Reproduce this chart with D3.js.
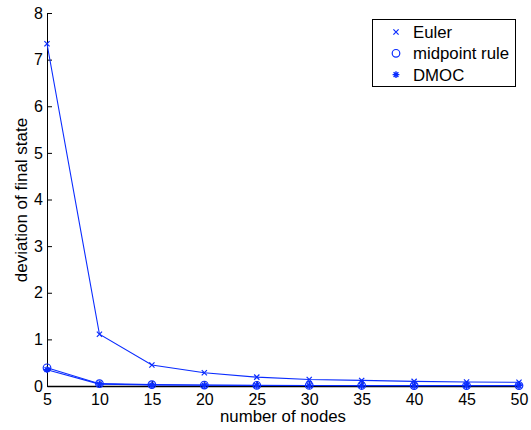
<!DOCTYPE html>
<html><head><meta charset="utf-8">
<script src="https://cdn.jsdelivr.net/npm/d3@7"></script>
<style>body{margin:0;background:#fff}svg{display:block}text{font-family:"Liberation Sans",Arial,sans-serif;fill:#000}</style>
</head><body>
<svg id="c" width="531" height="430"></svg>
<script>
const nodes = [5,10,15,20,25,30,35,40,45,50];
const euler = [7.34,1.11,0.45,0.285,0.19,0.14,0.12,0.10,0.085,0.08];
const midpoint = [0.39,0.05,0.03,0.02,0.015,0.012,0.011,0.01,0.01,0.01];
const dmoc = [0.35,0.04,0.02,0.015,0.012,0.01,0.009,0.008,0.008,0.008];
const xTicks = [5,10,15,20,25,30,35,40,45,50];
const yTicks = [0,1,2,3,4,5,6,7,8];
const legendLabels = ["Euler","midpoint rule","DMOC"];

const svg = d3.select("#c");
const x = d3.scaleLinear().domain([5,50]).range([47,519]);
const y = d3.scaleLinear().domain([0,8]).range([386,13]);
const blue = "#0a2cff";

// axes
const yAxis = d3.axisLeft(y).tickValues(yTicks).tickSizeInner(-5).tickSizeOuter(0).tickPadding(4);
const gy = svg.append("g").attr("transform","translate(47,0)").call(yAxis);
const xAxis = d3.axisBottom(x).tickValues(xTicks).tickSizeInner(-5).tickSizeOuter(0).tickPadding(8);
const gx = svg.append("g").attr("transform","translate(0,386)").call(xAxis);
[gx,gy].forEach(g=>{
  g.select(".domain").attr("stroke","#000").attr("stroke-width",1);
  g.selectAll(".tick line").attr("stroke","#000");
  g.selectAll(".tick text").attr("font-size",16).attr("font-family","Liberation Sans, Arial, sans-serif").attr("fill","#000");
});
gx.select(".domain").attr("stroke-width",1.5);
gx.selectAll(".tick text").attr("y",19).attr("dy",0);

svg.append("text").attr("x",283).attr("y",422).attr("text-anchor","middle").attr("font-size",16.8).text("number of nodes");
svg.append("text").attr("transform","translate(27,200) rotate(-90)").attr("text-anchor","middle").attr("font-size",17).text("deviation of final state");

const line = d3.line().x(d=>x(d[0])).y(d=>y(d[1]));
const series = [euler, midpoint, dmoc];
series.forEach(s=>{
  svg.append("path").datum(nodes.map((n,i)=>[n,s[i]])).attr("d",line)
    .attr("fill","none").attr("stroke",blue).attr("stroke-width",1.1);
});

function marker(g, type, cx, cy){
  if(type===0){
    const r=2.6;
    g.append("path").attr("d",`M${cx-r},${cy-r}L${cx+r},${cy+r}M${cx-r},${cy+r}L${cx+r},${cy-r}`).attr("stroke",blue).attr("stroke-width",1.2);
  } else if(type===1){
    g.append("circle").attr("cx",cx).attr("cy",cy).attr("r",3.8).attr("fill","none").attr("stroke",blue).attr("stroke-width",1.2);
  } else {
    const r=3.4; let d="";
    for(let k=0;k<4;k++){const a=k*Math.PI/4; d+=`M${cx-r*Math.cos(a)},${cy-r*Math.sin(a)}L${cx+r*Math.cos(a)},${cy+r*Math.sin(a)}`;}
    g.append("path").attr("d",d).attr("stroke",blue).attr("stroke-width",1.4);
  }
}
const mg = svg.append("g");
series.forEach((s,si)=>{ nodes.forEach((n,i)=>marker(mg,si,x(n),y(s[i]))); });

// legend
const lg = svg.append("g");
lg.append("rect").attr("x",372.5).attr("y",19.5).attr("width",143).attr("height",67).attr("fill","#fff").attr("stroke","#000").attr("stroke-width",1);
legendLabels.forEach((lab,i)=>{
  const ly = 32 + i*21.3;
  marker(lg,i,396,ly);
  lg.append("text").attr("x",413).attr("y",ly+6).attr("font-size",16.8).text(lab);
});
</script>
</body></html>
